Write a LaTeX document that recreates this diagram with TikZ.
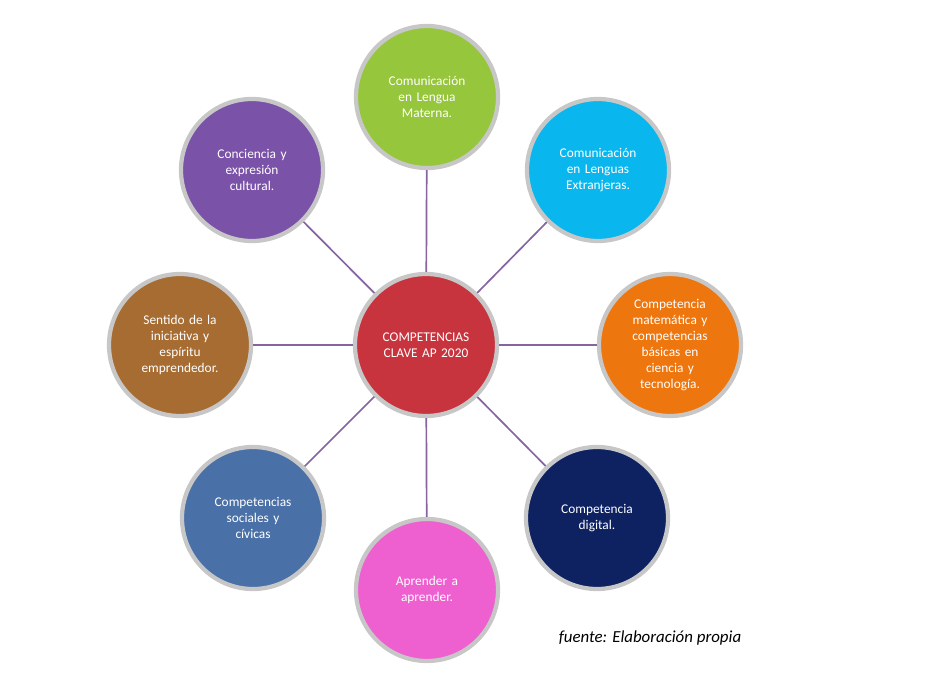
\documentclass[tikz,border=0pt]{standalone}
\usepackage{fontspec}
\setmainfont{Carlito}
\usetikzlibrary{positioning}
\definecolor{verde}{RGB}{150,198,60}
\definecolor{cian}{RGB}{10,182,238}
\definecolor{naranja}{RGB}{238,118,14}
\definecolor{marino}{RGB}{14,34,98}
\definecolor{rosa}{RGB}{238,96,208}
\definecolor{acero}{RGB}{74,112,168}
\definecolor{marron}{RGB}{166,108,50}
\definecolor{morado}{RGB}{122,82,168}
\definecolor{rojo}{RGB}{200,52,62}
\definecolor{enlace}{RGB}{134,100,160}
\tikzset{
  comp/.style={circle, draw=black!22, line width=3pt, minimum size=3.55cm, inner sep=1pt,
    text=white, align=center, text width=2.5cm, font=\fontsize{9.5}{11.5}\selectfont},
  enlace/.style={draw=enlace, line width=1.2pt}
}
\begin{document}
\begin{tikzpicture}[x=0.025cm, y=-0.025cm]
\useasboundingbox (0,0) rectangle (932,681);
% Circulo central
\node (centro) at (426,345) [comp, fill=rojo] {COMPETENCIAS\\CLAVE AP 2020};

% Competencias
\node (lengua) at (427,97) [comp, fill=verde] {Comunicación\\en Lengua\\Materna.};
\node (extranjeras) at (598,170) [comp, fill=cian] {Comunicación\\en Lenguas\\Extranjeras.};
\node (matematica) at (670,345) [comp, fill=naranja] {Competencia\\matemática y\\competencias\\básicas en\\ciencia y\\tecnología.};
\node (digital) at (597,518) [comp, fill=marino] {Competencia\\digital.};
\node (aprender) at (427,590) [comp, fill=rosa] {Aprender a\\aprender.};
\node (sociales) at (253,518) [comp, fill=acero] {Competencias\\sociales y\\cívicas};
\node (iniciativa) at (180,345) [comp, fill=marron] {Sentido de la\\iniciativa y\\espíritu\\emprendedor.};
\node (cultural) at (252,170) [comp, fill=morado] {Conciencia y\\expresión\\cultural.};

% Conexiones
\foreach \n in {lengua, extranjeras, matematica, digital, aprender, sociales, iniciativa, cultural}
  \draw[enlace] (centro) -- (\n);

% Fuente
\node (fuente) at (650,638) [font=\itshape\large] {fuente: Elaboración propia};
\end{tikzpicture}
\end{document}
